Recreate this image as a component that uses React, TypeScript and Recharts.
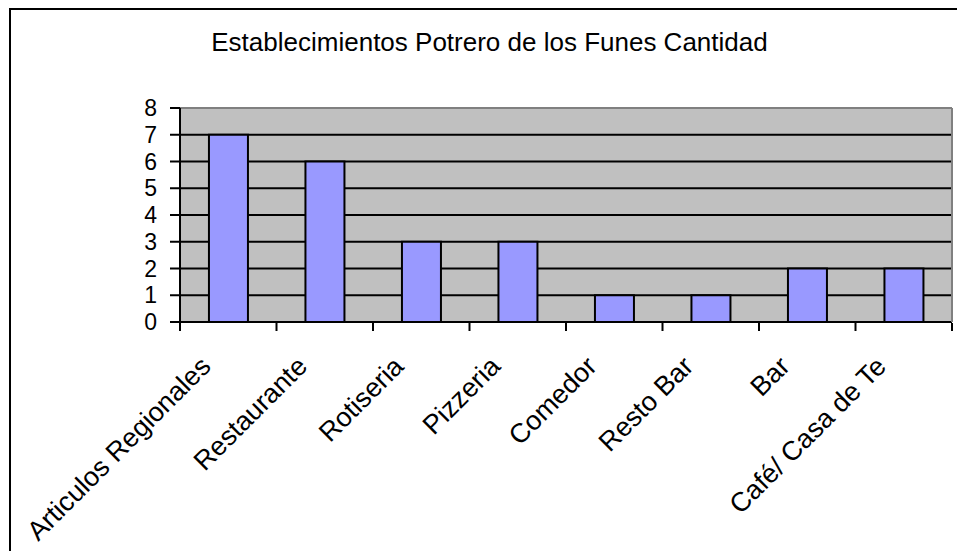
import React from 'react';
import { BarChart, Bar, XAxis, YAxis, CartesianGrid, ReferenceLine } from 'recharts';

const categories = ['Articulos Regionales', 'Restaurante', 'Rotiseria', 'Pizzeria', 'Comedor', 'Resto Bar', 'Bar', 'Café/ Casa de Te'];
const cantidad = [7, 6, 3, 3, 1, 1, 2, 2];
const yTicks = [0, 1, 2, 3, 4, 5, 6, 7, 8];
const boundaryTicks = [0, 1, 2, 3, 4, 5, 6, 7, 8];
const title = 'Establecimientos Potrero de los Funes Cantidad';

const data = categories.map((c, i) => ({ name: c, value: cantidad[i], pos: i + 0.5 }));

const FONT = '"Liberation Sans", Arial, sans-serif';

const XTick = (props: any) => {
  const { x, y, payload } = props;
  const px = x - 16;
  const py = y + 46;
  return (
    <text x={px} y={py} transform={`rotate(-45 ${px} ${py})`} textAnchor="end" fontSize={27} fontFamily={FONT} fill="#000">
      {payload.value}
    </text>
  );
};

const EmptyTick = () => <g />;

export default function App() {
  return (
    <div style={{ position: 'absolute', left: 0, top: 0, width: 957, height: 551, overflow: 'hidden', background: '#fff' }}>
      <div style={{ position: 'absolute', left: 9, top: 8, width: 1200, height: 800, border: '2px solid #000', boxSizing: 'border-box' }} />
      <svg style={{ position: 'absolute', left: 0, top: 0 }} width={957} height={551}>
        <text x={489.5} y={51} textAnchor="middle" fontSize={26} fontFamily={FONT} fill="#000">{title}</text>
      </svg>
      <div style={{ position: 'absolute', left: 0, top: 0 }}>
        <BarChart width={957} height={551} data={data} margin={{ top: 108, right: 4, left: 0, bottom: 0 }} barCategoryGap="30%">
          <CartesianGrid xAxisId="cat" fill="#C0C0C0" vertical={false} horizontalValues={[1, 2, 3, 4, 5, 6, 7]} stroke="#000" strokeWidth={2} />
          <XAxis xAxisId="cat" dataKey="name" height={1} axisLine={{ stroke: '#000', strokeWidth: 2 }} tickLine={false} tickSize={0} tickMargin={0} interval={0} tick={<XTick />} />
          <XAxis xAxisId="num" type="number" dataKey="pos" domain={[0, 8]} ticks={boundaryTicks} height={228} tick={<EmptyTick />} tickSize={8} interval={0}
            axisLine={false} tickLine={{ stroke: '#000', strokeWidth: 2 }} allowDataOverflow />
          <YAxis domain={[0, 8]} ticks={yTicks} width={180} tickSize={10} tickMargin={13} interval={0}
            axisLine={{ stroke: '#000', strokeWidth: 2 }} tickLine={{ stroke: '#000', strokeWidth: 2 }}
            tick={{ fontSize: 23, fontFamily: FONT, fill: '#000' }} />
          <YAxis yAxisId="r" orientation="right" domain={[0, 8]} width={1} tick={false} tickLine={false} axisLine={{ stroke: '#808080', strokeWidth: 2 }} />
          <ReferenceLine xAxisId="cat" y={8} stroke="#808080" strokeWidth={2} />
          <Bar xAxisId="cat" dataKey="value" fill="#9999FF" stroke="#000" strokeWidth={2} isAnimationActive={false} />
        </BarChart>
      </div>
    </div>
  );
}
